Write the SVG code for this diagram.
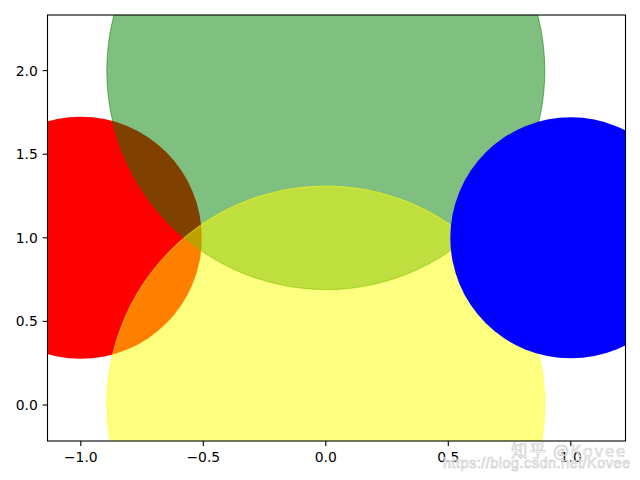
<svg xmlns="http://www.w3.org/2000/svg" width="640" height="480" viewBox="0 0 640 480">
<style>
.tick{stroke:#000;stroke-width:1.1}
.lbl{font-family:"DejaVu Sans",sans-serif;font-size:13.9px;fill:#000}
.xl{text-anchor:middle}
.yl{text-anchor:end}
</style>
<defs>
<clipPath id="ax"><rect x="47.5" y="15" width="578" height="426"/></clipPath>
</defs>
<rect x="0" y="0" width="640" height="480" fill="#fff"/>
<g clip-path="url(#ax)">
<g id="red"><circle cx="80.8" cy="237.8" r="121" fill="#ff0000"/></g>
<g id="green"><circle cx="325.8" cy="70.6" r="219" fill="#008000" fill-opacity="0.5" stroke="#008000" stroke-opacity="0.5" stroke-width="1.1"/></g>
<g id="yellow"><circle cx="325.8" cy="405" r="219" fill="#ffff00" fill-opacity="0.5" stroke="#ffff00" stroke-opacity="0.5" stroke-width="1.1"/></g>
<g id="blue"><circle cx="570.8" cy="237.8" r="120.5" fill="#0000ff"/></g>
</g>
<rect x="47.5" y="15" width="578" height="426" fill="none" stroke="#000" stroke-width="1.1"/>
<g id="xticks">
<line class="tick" x1="80.8" y1="441" x2="80.8" y2="445.9"/>
<line class="tick" x1="203.3" y1="441" x2="203.3" y2="445.9"/>
<line class="tick" x1="325.8" y1="441" x2="325.8" y2="445.9"/>
<line class="tick" x1="448.3" y1="441" x2="448.3" y2="445.9"/>
<line class="tick" x1="570.8" y1="441" x2="570.8" y2="445.9"/>
<text class="lbl xl" x="80.8" y="461.5">−1.0</text>
<text class="lbl xl" x="203.3" y="461.5">−0.5</text>
<text class="lbl xl" x="325.8" y="461.5">0.0</text>
<text class="lbl xl" x="448.3" y="461.5">0.5</text>
<text class="lbl xl" x="570.8" y="461.5">1.0</text>
</g>
<g id="yticks">
<line class="tick" x1="42.6" y1="405" x2="47.5" y2="405"/>
<line class="tick" x1="42.6" y1="321.4" x2="47.5" y2="321.4"/>
<line class="tick" x1="42.6" y1="237.8" x2="47.5" y2="237.8"/>
<line class="tick" x1="42.6" y1="154.2" x2="47.5" y2="154.2"/>
<line class="tick" x1="42.6" y1="70.6" x2="47.5" y2="70.6"/>
<text class="lbl yl" x="37.8" y="410">0.0</text>
<text class="lbl yl" x="37.8" y="326.4">0.5</text>
<text class="lbl yl" x="37.8" y="242.8">1.0</text>
<text class="lbl yl" x="37.8" y="159.2">1.5</text>
<text class="lbl yl" x="37.8" y="75.6">2.0</text>
</g>
<g id="watermark" fill="#ffffff" fill-opacity="0.75" stroke="#c8c8c8" stroke-width="0.6">
<text x="511" y="457" font-family="Noto Sans CJK SC, sans-serif" font-size="16.5px" textLength="114">知乎 @Kovee</text>
<text x="443" y="467.5" font-family="Liberation Sans, sans-serif" font-size="14.5px" textLength="187">https://blog.csdn.net/Kovee</text>
</g>
</svg>
